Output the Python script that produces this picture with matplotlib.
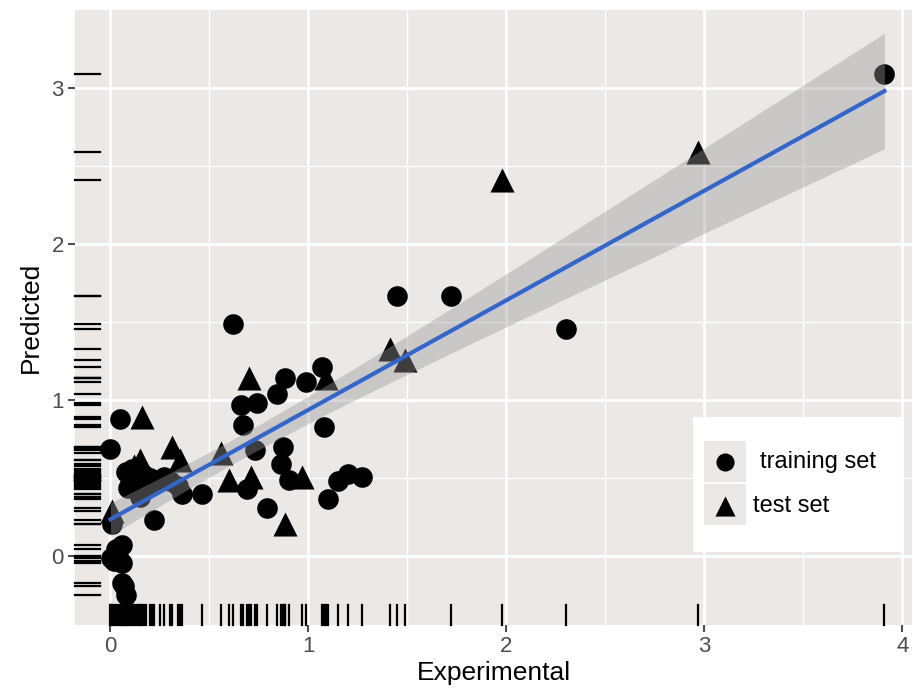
import matplotlib.pyplot as plt
import numpy as np
from matplotlib.patches import Rectangle

plt.rcParams['font.family'] = ['Liberation Sans', 'DejaVu Sans']

# training set (circles)
train_x = [3.91, 2.30, 1.72, 1.45, 0.62, 1.07, 0.99, 0.88, 0.84, 0.74, 0.66,
           0.67, 1.08, 0.87, 0.86, 0.73, 0.90, 1.10, 1.15, 1.20, 1.27, 0.79,
           0.69, 0.46, 0.36, 0.22, 0.05, 0.00, 0.01, 0.06, 0.005, 0.06, 0.06,
           0.08, 0.08, 0.09, 0.12, 0.14, 0.18, 0.15, 0.25, 0.30, 0.34, 0.02,
           0.04, 0.07, 0.11, 0.20, 0.10, 0.13, 0.17, 0.21, 0.27, 0.03]
train_y = [3.09, 1.455, 1.67, 1.665, 1.49, 1.21, 1.12, 1.14, 1.04, 0.98, 0.97,
           0.84, 0.83, 0.70, 0.59, 0.68, 0.49, 0.37, 0.48, 0.53, 0.51, 0.31,
           0.43, 0.40, 0.40, 0.23, 0.88, 0.69, 0.21, 0.07, -0.01, -0.04, -0.17,
           -0.25, 0.54, 0.44, 0.52, 0.50, 0.48, 0.38, 0.49, 0.48, 0.45, -0.03,
           0.00, -0.19, 0.56, 0.50, 0.47, 0.55, 0.52, 0.46, 0.51, 0.05]

# test set (triangles)
test_x = [1.98, 2.97, 1.41, 1.49, 0.70, 1.09, 0.16, 0.31, 0.35, 0.15, 0.56,
          0.60, 0.71, 0.97, 0.88, 0.01, 0.12]
test_y = [2.41, 2.59, 1.33, 1.26, 1.14, 1.14, 0.89, 0.70, 0.62, 0.62, 0.66,
          0.49, 0.51, 0.51, 0.21, 0.29, 0.58]

all_x = np.array(train_x + test_x)
all_y = np.array(train_y + test_y)

fig = plt.figure(figsize=(9.13, 6.91), dpi=100)
ax = fig.add_axes([0.082, 0.0955, 0.917, 0.89])
ax.set_facecolor('#EBE8E6')

ax.set_xlim(-0.18, 4.05)
ax.set_ylim(-0.44, 3.5)

# grid like ggplot
for v in [0.5, 1.5, 2.5, 3.5]:
    ax.axvline(v, color='white', lw=1.0, zorder=0)
for v in [0, 1, 2, 3, 4]:
    ax.axvline(v, color='white', lw=2.0, zorder=0)
for v in [0.5, 1.5, 2.5]:
    ax.axhline(v, color='white', lw=1.0, zorder=0)
for v in [0, 1, 2, 3]:
    ax.axhline(v, color='white', lw=2.0, zorder=0)

# linear fit with 95% confidence band
n = len(all_x)
b, a = np.polyfit(all_x, all_y, 1)
xs = np.linspace(all_x.min(), all_x.max(), 200)
ys = a + b * xs
resid = all_y - (a + b * all_x)
s = np.sqrt(np.sum(resid ** 2) / (n - 2))
sxx = np.sum((all_x - all_x.mean()) ** 2)
se = s * np.sqrt(1.0 / n + (xs - all_x.mean()) ** 2 / sxx)
t = 1.993
ax.fill_between(xs, ys - t * se, ys + t * se, color='#999999', alpha=0.4, lw=0, zorder=3)
ax.plot(xs, ys, color='#3366CC', lw=3, zorder=4)

ax.scatter(train_x, train_y, s=220, marker='o', color='black', lw=0, zorder=2)
ax.scatter(test_x, test_y, s=300, marker='^', color='black', lw=0, zorder=2)

# rugs
trans_x = ax.get_xaxis_transform()
trans_y = ax.get_yaxis_transform()
for v in all_x:
    ax.plot([v, v], [0, 0.033], color='black', lw=1.6, transform=trans_x, zorder=5, clip_on=False)
for v in all_y:
    ax.plot([0, 0.03], [v, v], color='black', lw=1.6, transform=trans_y, zorder=5, clip_on=False)

for sp in ax.spines.values():
    sp.set_visible(False)
ax.set_xticks([0, 1, 2, 3, 4])
ax.set_yticks([0, 1, 2, 3])
ax.tick_params(colors='#4D4D4D', labelsize=16, length=5, width=1.5, labelcolor='#4D4D4D', pad=3)
ax.set_xlabel('Experimental', fontsize=19, labelpad=3)
ax.set_ylabel('Predicted', fontsize=19, labelpad=6)

# legend drawn inside the panel
ax.add_patch(Rectangle((0.738, 0.119), 0.249, 0.22, transform=ax.transAxes,
                       facecolor='white', edgecolor='none', zorder=6))
ax.add_patch(Rectangle((0.751, 0.232), 0.051, 0.067, transform=ax.transAxes,
                       facecolor='#EBE8E6', edgecolor='none', zorder=7))
ax.add_patch(Rectangle((0.751, 0.162), 0.051, 0.067, transform=ax.transAxes,
                       facecolor='#EBE8E6', edgecolor='none', zorder=7))
ax.scatter([0.7765], [0.2655], s=170, marker='o', color='black', lw=0,
           transform=ax.transAxes, zorder=8)
ax.scatter([0.7765], [0.193], s=210, marker='^', color='black', lw=0,
           transform=ax.transAxes, zorder=8)
ax.text(0.818, 0.2655, 'training set', fontsize=17, va='center', ha='left',
        transform=ax.transAxes, zorder=9)
ax.text(0.81, 0.193, 'test set', fontsize=17, va='center', ha='left',
        transform=ax.transAxes, zorder=9)

fig.savefig('out.png', dpi=100)
